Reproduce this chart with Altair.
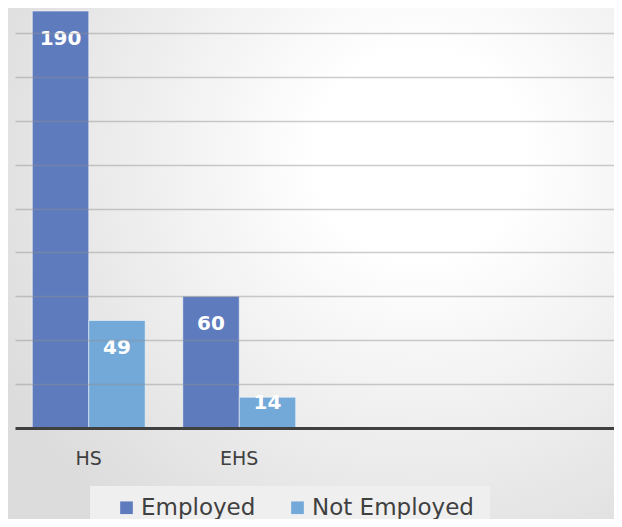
import altair as alt
import pandas as pd

groups = ["HS", "HS", "EHS", "EHS"]
statuses = ["Employed", "Not Employed", "Employed", "Not Employed"]
values = [190, 49, 60, 14]
categories = ["HS", "EHS", " ", "  "]
series = ["Employed", "Not Employed"]
colors = ["#5E7BBE", "#72A9D8"]
grid_values = [20, 40, 60, 80, 100, 120, 140, 160, 180]

df = pd.DataFrame({"group": groups, "status": statuses, "value": values})

W, H = 599, 420
FONT = "DejaVu Sans"
TXT = "#404040"

bg = alt.Chart(alt.Data(values=[{}])).mark_rect(
    color={"gradient": "radial", "x1": 0.68, "y1": 0.32, "x2": 0.68, "y2": 0.32,
           "r1": 0, "r2": 0.78,
           "stops": [{"offset": 0, "color": "#ffffff"},
                     {"offset": 0.22, "color": "#ffffff"},
                     {"offset": 1, "color": "#dcdcdc"}]}
).encode(x=alt.value(-7), x2=alt.value(W), y=alt.value(0), y2=alt.value(H + 91))

legend_box = alt.Chart(alt.Data(values=[{}])).mark_rect(color="#efefef").encode(
    x=alt.value(75), x2=alt.value(475), y=alt.value(478), y2=alt.value(H + 91)
)

base = alt.Chart(df)

x_enc = alt.X(
    "group:N",
    sort=categories,
    scale=alt.Scale(domain=categories, paddingInner=0.25, paddingOuter=0.115),
    axis=alt.Axis(title=None, labelExpr="datum.value == 'HS' || datum.value == 'EHS' ? datum.value : ''",
                  labelFont=FONT, labelFontSize=19, labelColor=TXT, labelPadding=21,
                  labelAngle=0, ticks=False, domainColor="#404040", domainWidth=3, zindex=1),
)
xo_enc = alt.XOffset("status:N", scale=alt.Scale(domain=series, paddingInner=0))
y_enc = alt.Y(
    "value:Q",
    scale=alt.Scale(domain=[0, 191.4], nice=False, zero=True),
    axis=alt.Axis(title=None, labels=False, ticks=False, domain=False, values=grid_values,
                  gridColor="#909090", gridOpacity=0.45, gridWidth=1.5, zindex=1),
)

bars = base.mark_bar(stroke="#ffffff", strokeWidth=1, strokeOpacity=0.5).encode(
    x=x_enc,
    xOffset=xo_enc,
    y=y_enc,
    color=alt.Color(
        "status:N",
        scale=alt.Scale(domain=series, range=colors),
        legend=alt.Legend(title=None, orient="none", legendX=100, legendY=488,
                          direction="horizontal", symbolType="square", symbolSize=160,
                          symbolStrokeWidth=0, labelFont=FONT, labelFontSize=23,
                          labelColor=TXT, columnPadding=30, labelOffset=3, padding=0,
                          labelLimit=400),
    ),
)

lab_big = base.transform_filter("datum.value >= 20").mark_text(
    color="white", font=FONT, fontWeight="bold", fontSize=20, baseline="middle", dy=28
).encode(x=alt.X("group:N", sort=categories), xOffset="status:N", y="value:Q", text="value:Q")

lab_small = base.transform_filter("datum.value < 20").mark_text(
    color="white", font=FONT, fontWeight="bold", fontSize=20, baseline="middle", dy=6
).encode(x=alt.X("group:N", sort=categories), xOffset="status:N", y="value:Q", text="value:Q")

chart = alt.layer(bg, legend_box, bars, lab_big, lab_small).properties(
    width=W, height=H, autosize="none",
    padding={"left": 7, "top": 0, "right": 0, "bottom": 91},
).configure(background="#e2e2e2").configure_view(stroke=None)

chart.save("out.html", embed_options={"renderer": "svg", "actions": False})
